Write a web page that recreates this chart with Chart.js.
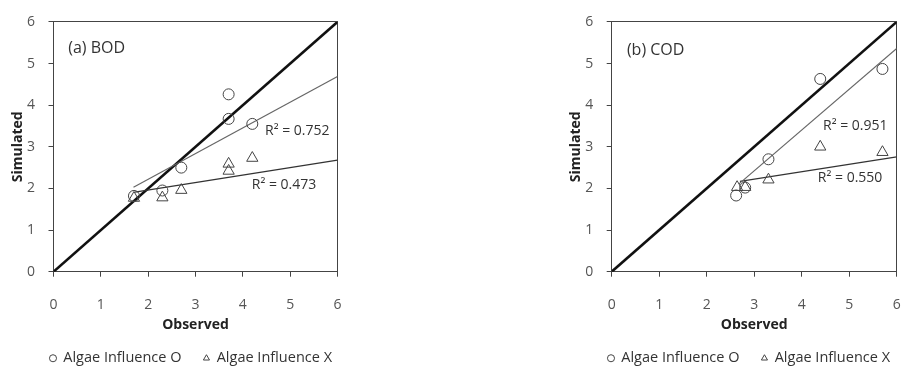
<!DOCTYPE html>
<html lang="en">
<head>
    <meta charset="UTF-8">
    <title>BOD / COD Observed vs Simulated</title>
    <script src="https://cdn.jsdelivr.net/npm/chart.js"></script>
    <style>
        html, body {
            margin: 0;
            padding: 0;
            background: #fff;
            overflow: hidden;
        }
        .wrap {
            position: relative;
            width: 905px;
            height: 368px;
        }
        canvas {
            position: absolute;
            top: 0;
        }
        #bodChart { left: 0; }
        #codChart { left: 558px; }
    </style>
</head>
<body>
    <div class="wrap">
        <canvas id="bodChart" width="382" height="368"></canvas>
        <canvas id="codChart" width="382" height="368"></canvas>
    </div>

    <script>
        // axis ticks (both panels share the same 0..6 range)
        const axisTicks = [0, 1, 2, 3, 4, 5, 6];
        const seriesNames = ['Algae Influence O', 'Algae Influence X'];
        const oneToOneX = [0, 6];
        const oneToOneY = [0, 6];

        // (a) BOD
        const bodObsO = [1.7, 2.3, 2.7, 3.7, 3.7, 4.2];
        const bodSimO = [1.82, 1.95, 2.5, 4.26, 3.67, 3.55];
        const bodObsX = [1.7, 2.3, 2.7, 3.7, 3.7, 4.2];
        const bodSimX = [1.77, 1.78, 1.96, 2.59, 2.42, 2.73];
        const bodTrendOX = [1.69, 6];
        const bodTrendOY = [2.03, 4.69];
        const bodTrendXX = [1.72, 6];
        const bodTrendXY = [1.91, 2.68];
        const bodR2 = ['R\u00B2 = 0.752', 'R\u00B2 = 0.473'];

        // (b) COD
        const codObsO = [2.62, 2.81, 3.3, 4.39, 5.7];
        const codSimO = [1.83, 2.02, 2.70, 4.63, 4.87];
        const codObsX = [2.64, 2.81, 3.3, 4.39, 5.7];
        const codSimX = [2.03, 2.03, 2.21, 3.0, 2.87];
        const codTrendOX = [2.68, 6];
        const codTrendOY = [2.11, 5.36];
        const codTrendXX = [2.7, 6];
        const codTrendXY = [2.17, 2.76];
        const codR2 = ['R\u00B2 = 0.951', 'R\u00B2 = 0.550'];

        const FONT = "'Open Sans', 'Noto Sans', sans-serif";

        function pts(xs, ys) {
            return xs.map((x, i) => ({ x: x, y: ys[i] }));
        }

        // draws free text at data coordinates
        const notesPlugin = {
            id: 'notes',
            afterDatasetsDraw(chart, args, opts) {
                const { ctx, scales } = chart;
                ctx.save();
                (opts.items || []).forEach(n => {
                    ctx.font = n.font;
                    ctx.fillStyle = n.color || '#333';
                    ctx.textAlign = 'left';
                    ctx.textBaseline = 'middle';
                    ctx.fillText(n.text, scales.x.getPixelForValue(n.x), scales.y.getPixelForValue(n.y));
                });
                ctx.restore();
            }
        };

        function makeChart(id, d) {
            const edge = { display: true, color: '#444', width: 1 };
            return new Chart(document.getElementById(id), {
                type: 'scatter',
                data: {
                    datasets: [
                        {
                            label: seriesNames[0],
                            data: pts(d.obsO, d.simO),
                            pointStyle: 'circle',
                            pointRadius: 5.5,
                            pointBorderWidth: 1,
                            pointBorderColor: '#444',
                            pointBackgroundColor: 'rgba(0,0,0,0)',
                            borderColor: '#444',
                            backgroundColor: 'rgba(0,0,0,0)'
                        },
                        {
                            label: seriesNames[1],
                            data: pts(d.obsX, d.simX),
                            pointStyle: 'triangle',
                            pointRadius: 6.5,
                            pointBorderWidth: 1,
                            pointBorderColor: '#444',
                            pointBackgroundColor: 'rgba(0,0,0,0)',
                            borderColor: '#444',
                            backgroundColor: 'rgba(0,0,0,0)'
                        },
                        {
                            label: 'trendO',
                            data: pts(d.trendOX, d.trendOY),
                            showLine: true,
                            borderColor: '#666',
                            borderWidth: 1.2,
                            pointRadius: 0
                        },
                        {
                            label: 'trendX',
                            data: pts(d.trendXX, d.trendXY),
                            showLine: true,
                            borderColor: '#333',
                            borderWidth: 1.2,
                            pointRadius: 0
                        },
                        {
                            label: '1:1',
                            data: pts(oneToOneX, oneToOneY),
                            showLine: true,
                            borderColor: '#111',
                            borderWidth: 2.6,
                            pointRadius: 0
                        }
                    ]
                },
                options: {
                    responsive: false,
                    animation: false,
                    layout: { padding: { left: 0, right: 0, top: d.top, bottom: 0 } },
                    scales: {
                        x: {
                            type: 'linear',
                            position: 'bottom',
                            min: axisTicks[0],
                            max: axisTicks[axisTicks.length - 1],
                            afterBuildTicks: s => { s.ticks = axisTicks.map(v => ({ value: v })); },
                            ticks: { padding: 20, color: '#555', font: { family: FONT, size: 14 } },
                            grid: { drawOnChartArea: false, tickLength: 5, color: '#444' },
                            border: edge,
                            title: {
                                display: true,
                                text: 'Observed',
                                color: '#222',
                                font: { family: FONT, size: 14, weight: 'bold' },
                                padding: { top: 0, bottom: -4.4 }
                            },
                            afterFit: s => { s.height = 329 - d.bottom; }
                        },
                        y: {
                            type: 'linear',
                            position: 'left',
                            min: axisTicks[0],
                            max: axisTicks[axisTicks.length - 1],
                            afterBuildTicks: s => { s.ticks = axisTicks.map(v => ({ value: v })); },
                            ticks: { padding: 13.5, color: '#555', font: { family: FONT, size: 14 } },
                            grid: { drawOnChartArea: false, tickLength: 5, color: '#444' },
                            border: edge,
                            title: {
                                display: true,
                                text: 'Simulated',
                                color: '#222',
                                font: { family: FONT, size: 14, weight: 'bold' },
                                padding: { top: 9.6, bottom: 0 }
                            },
                            afterFit: s => { s.width = d.left; }
                        },
                        // frame edges of the plot box
                        x2: {
                            type: 'linear', position: 'top', min: 0, max: 6,
                            ticks: { display: false },
                            grid: { drawOnChartArea: false, drawTicks: false },
                            border: edge,
                            afterFit: s => { s.height = 0; }
                        },
                        y2: {
                            type: 'linear', position: 'right', min: 0, max: 6,
                            ticks: { display: false },
                            grid: { drawOnChartArea: false, drawTicks: false },
                            border: edge,
                            afterFit: s => { s.width = 382 - d.right; }
                        }
                    },
                    plugins: {
                        tooltip: { enabled: false },
                        legend: {
                            position: 'bottom',
                            maxHeight: 39,
                            labels: {
                                usePointStyle: true,
                                boxWidth: 6,
                                boxHeight: 5,
                                padding: 22,
                                color: '#333',
                                font: { family: FONT, size: 14.5 },
                                filter: item => item.datasetIndex < 2
                            }
                        },
                        notes: { items: d.notes }
                    }
                },
                plugins: [notesPlugin]
            });
        }

        makeChart('bodChart', {
            obsO: bodObsO, simO: bodSimO, obsX: bodObsX, simX: bodSimX,
            trendOX: bodTrendOX, trendOY: bodTrendOY, trendXX: bodTrendXX, trendXY: bodTrendXY,
            top: 15.6, bottom: 271.7, left: 53.5, right: 337.5,
            notes: [
                { text: '(a) BOD', x: 0.31, y: 5.36, font: '16px ' + FONT },
                { text: bodR2[0], x: 4.47, y: 3.37, font: '14px ' + FONT },
                { text: bodR2[1], x: 4.19, y: 2.08, font: '14px ' + FONT }
            ]
        });

        makeChart('codChart', {
            obsO: codObsO, simO: codSimO, obsX: codObsX, simX: codSimX,
            trendOX: codTrendOX, trendOY: codTrendOY, trendXX: codTrendXX, trendXY: codTrendXY,
            top: 14, bottom: 271.7, left: 53.7, right: 338.7,
            notes: [
                { text: '(b) COD', x: 0.32, y: 5.32, font: '16px ' + FONT },
                { text: codR2[0], x: 4.45, y: 3.49, font: '14px ' + FONT },
                { text: codR2[1], x: 4.34, y: 2.25, font: '14px ' + FONT }
            ]
        });
    </script>
</body>
</html>
